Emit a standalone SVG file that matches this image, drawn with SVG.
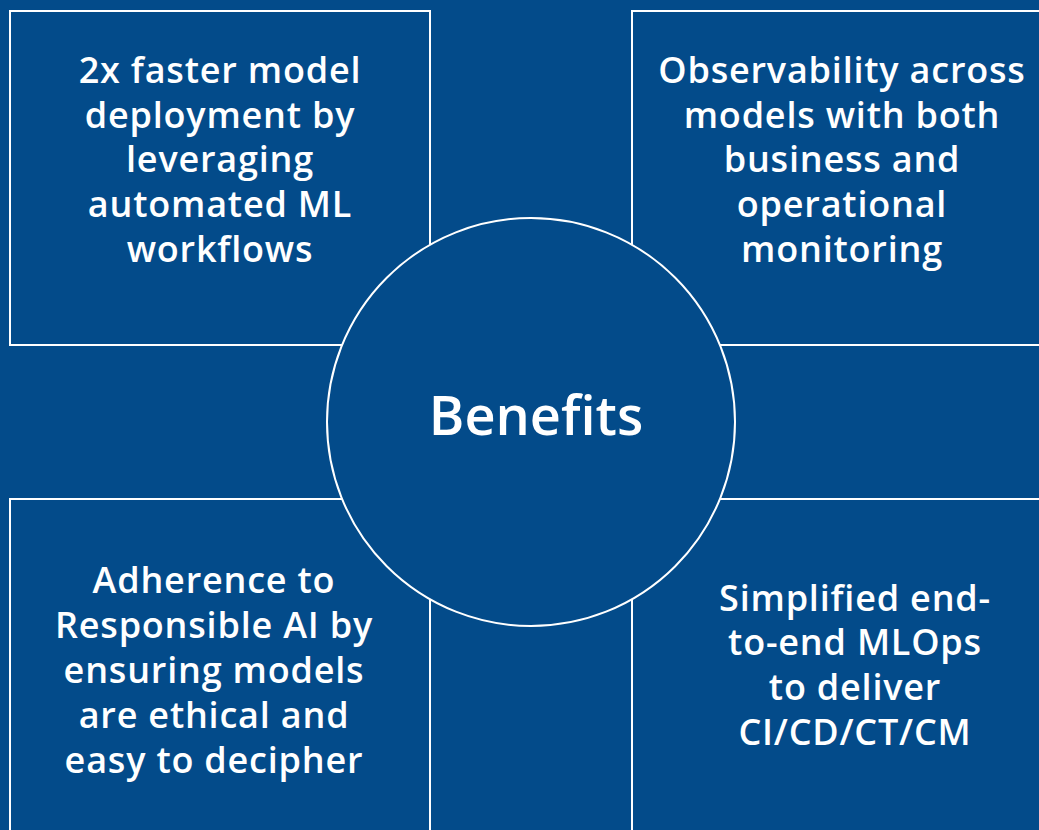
<svg xmlns="http://www.w3.org/2000/svg" width="1039" height="830" viewBox="0 0 1039 830">
<style>
.bg{fill:#034b8a}
.box{fill:#034b8a;stroke:#ffffff;stroke-width:2}
.t{fill:#ffffff;font-family:"Open Sans","Noto Sans","Liberation Sans",sans-serif;font-weight:600;font-size:36px;letter-spacing:0.8px;text-anchor:middle}
.c{font-size:54px;letter-spacing:0}
</style>
<rect class="bg" x="0" y="0" width="1039" height="830"/>
<g id="box-deploy">
<rect class="box" x="10" y="11" width="420" height="334"/>
<text class="t"><tspan x="220" y="83">2x faster model</tspan><tspan x="220" y="128">deployment by</tspan><tspan x="220" y="172">leveraging</tspan><tspan x="220" y="217">automated ML</tspan><tspan x="220" y="262">workflows</tspan></text>
</g>
<g id="box-observability">
<rect class="box" x="632" y="11" width="420" height="334"/>
<text class="t"><tspan x="842" y="83">Observability across</tspan><tspan x="842" y="128">models with both</tspan><tspan x="842" y="172">business and</tspan><tspan x="842" y="217">operational</tspan><tspan x="842" y="262">monitoring</tspan></text>
</g>
<g id="box-responsible">
<rect class="box" x="10" y="499" width="420" height="340"/>
<text class="t"><tspan x="214" y="593">Adherence to</tspan><tspan x="214" y="638">Responsible AI by</tspan><tspan x="214" y="683">ensuring models</tspan><tspan x="214" y="728">are ethical and</tspan><tspan x="214" y="773">easy to decipher</tspan></text>
</g>
<g id="box-mlops">
<rect class="box" x="632" y="499" width="420" height="340"/>
<text class="t"><tspan x="855" y="611">Simplified end-</tspan><tspan x="855" y="655">to-end MLOps</tspan><tspan x="855" y="700">to deliver</tspan><tspan x="855" y="745">CI/CD/CT/CM</tspan></text>
</g>
<g id="connectors"></g>
<g id="center-benefits">
<circle class="box" cx="531" cy="422" r="204"/>
<text class="t c" x="536" y="435">Benefits</text>
</g>
</svg>
